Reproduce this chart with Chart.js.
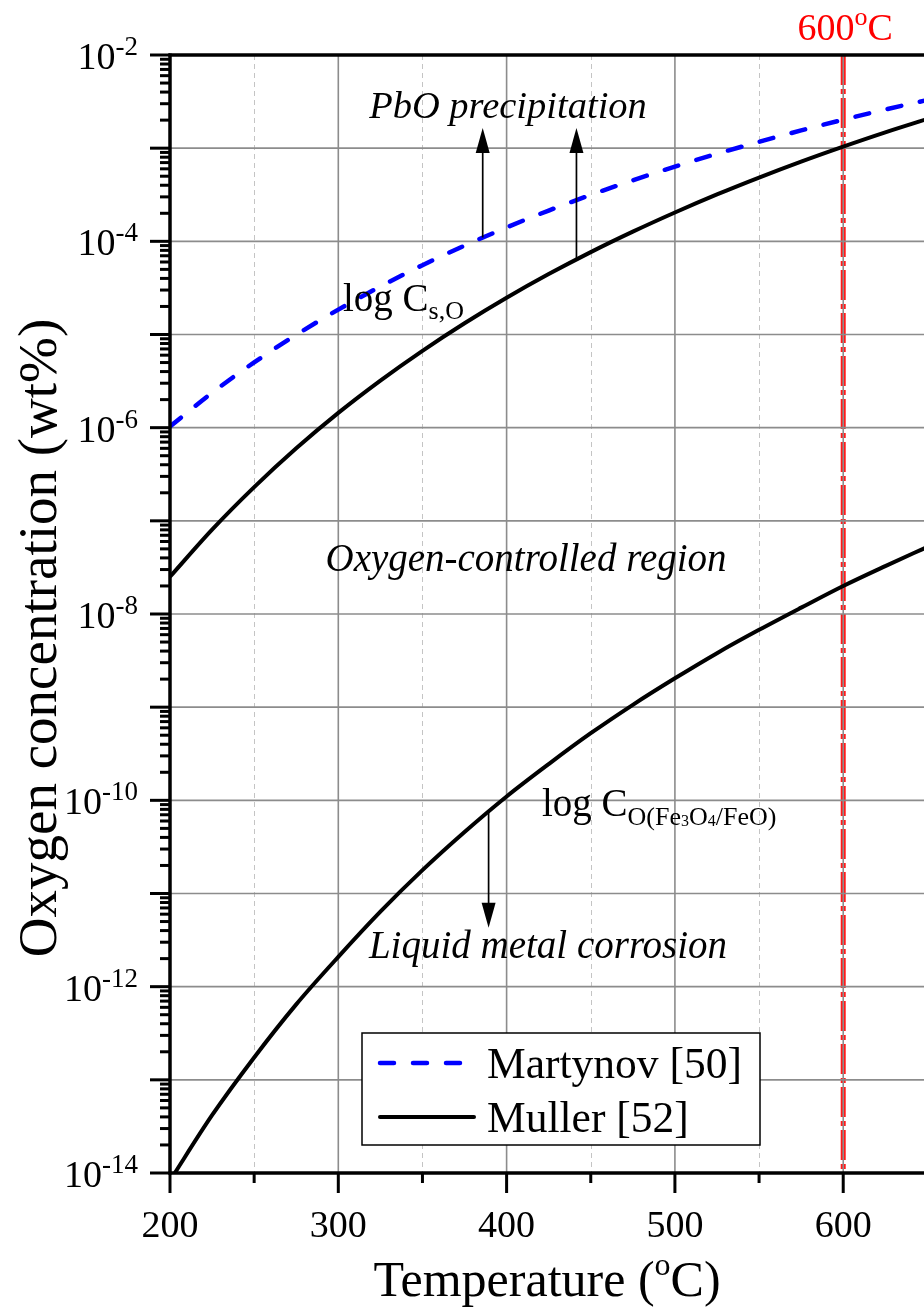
<!DOCTYPE html>
<html>
<head>
<meta charset="utf-8">
<title>Oxygen concentration in lead vs temperature</title>
<script src="https://cdn.jsdelivr.net/npm/chart.js"></script>
<style>
  html, body { margin: 0; padding: 0; background: #fff; }
</style>
</head>
<body>
<canvas id="chart" width="924" height="1309"></canvas>
<script>
// temperatures in degC
const temps = [200, 225, 250, 275, 300, 325, 350, 375, 400, 425, 450, 475, 500, 525, 550, 575, 600, 625, 650];
// oxygen solubility, Martynov [50] (wt%)
const martynov = [1.03e-6, 2.37e-6, 5.02e-6, 9.93e-6, 1.85e-5, 3.28e-5, 5.55e-5, 8.99e-5, 1.41e-4, 2.14e-4, 3.15e-4, 4.52e-4, 6.34e-4, 8.71e-4, 1.17e-3, 1.55e-3, 2.02e-3, 2.60e-3, 3.29e-3];
// oxygen solubility, Muller [52] (wt%)
const mullerSat = [2.51e-8, 8.04e-8, 2.30e-7, 6.00e-7, 1.44e-6, 3.20e-6, 6.68e-6, 1.32e-5, 2.48e-5, 4.45e-5, 7.66e-5, 1.27e-4, 2.04e-4, 3.19e-4, 4.84e-4, 7.18e-4, 1.04e-3, 1.48e-3, 2.06e-3];
// Fe3O4/FeO equilibrium oxygen level, Muller [52] (wt%)
const mullerFe = [8.3e-15, 4.17e-14, 1.74e-13, 6.46e-13, 2.09e-12, 6.38e-12, 1.78e-11, 4.57e-11, 1.10e-10, 2.45e-10, 5.25e-10, 1.06e-9, 2.04e-9, 3.80e-9, 6.76e-9, 1.17e-8, 2.0e-8, 3.27e-8, 5.25e-8];

// axis ticks
const xMajorTicks = [200, 300, 400, 500, 600];
const xMinorTicks = [250, 350, 450, 550];
const yDecadeExps = [-2, -3, -4, -5, -6, -7, -8, -9, -10, -11, -12, -13, -14];
const yLabelExps = [-2, -4, -6, -8, -10, -12, -14];
const yMinorMults = [2, 3, 4, 5, 6, 7, 8, 9];

const markTemp = 600;

// arrows: [temperature, from, to] in data units
const arrows = [
  [385.8, 1.1e-4, 1.65e-3],
  [441.5, 6.4e-5, 1.65e-3],
  [389.3, 7.9e-11, 4.3e-12]
];

const SERIF = '"Liberation Serif", "Times New Roman", serif';
const f = (size, style) => (style ? style + ' ' : '') + size + 'px ' + SERIF;

function richText(ctx, runs, x, y, align, color) {
  ctx.save();
  ctx.fillStyle = color || '#000';
  ctx.textBaseline = 'alphabetic';
  ctx.textAlign = 'left';
  let w = 0;
  runs.forEach(r => { ctx.font = r.font; r.w = ctx.measureText(r.text).width; w += r.w; });
  let cx = align === 'center' ? x - w / 2 : align === 'right' ? x - w : x;
  runs.forEach(r => { ctx.font = r.font; ctx.fillText(r.text, cx, y + (r.dy || 0)); cx += r.w; });
  ctx.restore();
  return w;
}

function line(ctx, x1, y1, x2, y2) {
  ctx.beginPath(); ctx.moveTo(x1, y1); ctx.lineTo(x2, y2); ctx.stroke();
}

const decades = yDecadeExps.map(e => Math.pow(10, e));

const framePlugin = {
  id: 'frame',
  beforeDraw(chart) {
    // red marker line at 600 degC, under the grid
    const { ctx, chartArea: a, scales: { x } } = chart;
    const px = x.getPixelForValue(markTemp);
    ctx.save();
    ctx.strokeStyle = '#ff1a1a';
    ctx.lineWidth = 5;
    ctx.setLineDash([30, 4, 5, 4]);
    line(ctx, px, a.top, px, a.bottom);
    ctx.restore();
  },
  beforeDatasetsDraw(chart) {
    const { ctx, chartArea: a, scales: { x, y } } = chart;
    ctx.save();
    // minor vertical grid (dashed)
    ctx.strokeStyle = '#c4c4c4';
    ctx.lineWidth = 1;
    ctx.setLineDash([5, 4]);
    xMinorTicks.forEach(t => {
      const px = Math.round(x.getPixelForValue(t)) + 0.5;
      line(ctx, px, a.top, px, a.bottom);
    });
    ctx.setLineDash([]);
    // major grid
    ctx.strokeStyle = '#8c8c8c';
    ctx.lineWidth = 1.6;
    xMajorTicks.forEach(t => {
      const px = x.getPixelForValue(t);
      line(ctx, px, a.top, px, a.bottom);
    });
    decades.forEach(v => {
      const py = y.getPixelForValue(v);
      line(ctx, a.left, py, a.right, py);
    });
    ctx.restore();
  },
  afterDatasetsDraw(chart) {
    const { ctx, chartArea: a, scales: { x, y } } = chart;
    ctx.save();
    ctx.strokeStyle = '#000';
    ctx.lineCap = 'butt';
    // y ticks
    ctx.lineWidth = 3;
    decades.forEach(v => {
      const py = y.getPixelForValue(v);
      line(ctx, a.left - 20, py, a.left, py);
    });
    yDecadeExps.slice(1).forEach(e => {
      yMinorMults.forEach(m => {
        const py = y.getPixelForValue(m * Math.pow(10, e));
        line(ctx, a.left - 10, py, a.left, py);
      });
    });
    // x ticks
    xMajorTicks.forEach(t => {
      const px = x.getPixelForValue(t);
      line(ctx, px, a.bottom, px, a.bottom + 20);
    });
    xMinorTicks.forEach(t => {
      const px = x.getPixelForValue(t);
      line(ctx, px, a.bottom, px, a.bottom + 10);
    });
    // frame
    ctx.lineWidth = 3.5;
    line(ctx, a.left, a.top - 1.5, a.left, a.bottom + 1.5);
    line(ctx, a.left - 1.5, a.bottom, a.right, a.bottom);
    line(ctx, a.left - 1.5, a.top, a.right, a.top);
    ctx.restore();

    // tick labels
    yLabelExps.forEach(e => {
      const py = y.getPixelForValue(Math.pow(10, e));
      richText(ctx, [
        { text: '10', font: f(38) },
        { text: '-' + (-e), font: f(27), dy: -14 }
      ], 138, py + 14, 'right');
    });
    xMajorTicks.forEach(t => {
      richText(ctx, [{ text: String(t), font: f(38) }], x.getPixelForValue(t), a.bottom + 64, 'center');
    });

    // axis titles
    richText(ctx, [
      { text: 'Temperature (', font: f(50) },
      { text: 'o', font: f(32), dy: -21 },
      { text: 'C)', font: f(50) }
    ], (a.left + a.right) / 2, 1296, 'center');
    ctx.save();
    ctx.translate(56, (a.top + a.bottom) / 2 + 24);
    ctx.rotate(-Math.PI / 2);
    richText(ctx, [{ text: 'Oxygen concentration (wt%)', font: f(55) }], 0, 0, 'center');
    ctx.restore();

    // red marker caption
    richText(ctx, [
      { text: '600', font: f(38) },
      { text: 'o', font: f(26), dy: -15 },
      { text: 'C', font: f(38) }
    ], x.getPixelForValue(markTemp) + 2, 40, 'center', '#ff0000');

    // arrows
    ctx.save();
    ctx.strokeStyle = '#000';
    ctx.fillStyle = '#000';
    ctx.lineWidth = 1.7;
    arrows.forEach(([t, v0, v1]) => {
      const px = x.getPixelForValue(t);
      const p0 = y.getPixelForValue(v0);
      const p1 = y.getPixelForValue(v1);
      const dir = p1 < p0 ? -1 : 1;
      line(ctx, px, p0, px, p1 - dir * 20);
      ctx.beginPath();
      ctx.moveTo(px, p1);
      ctx.lineTo(px - 7, p1 - dir * 25);
      ctx.lineTo(px + 7, p1 - dir * 25);
      ctx.closePath();
      ctx.fill();
    });
    ctx.restore();

    // region labels
    richText(ctx, [{ text: 'PbO precipitation', font: f(38.5, 'italic') }], 508, 118, 'center');
    richText(ctx, [{ text: 'Oxygen-controlled region', font: f(39, 'italic') }], 526, 571, 'center');
    richText(ctx, [{ text: 'Liquid metal corrosion', font: f(39, 'italic') }], 548, 958, 'center');
    richText(ctx, [
      { text: 'log C', font: f(39) },
      { text: 's,O', font: f(26), dy: 8 }
    ], 343, 311, 'left');
    richText(ctx, [
      { text: 'log C', font: f(39) },
      { text: 'O(Fe', font: f(26), dy: 9 },
      { text: '3', font: f(16), dy: 10 },
      { text: 'O', font: f(26), dy: 9 },
      { text: '4', font: f(16), dy: 10 },
      { text: '/FeO)', font: f(26), dy: 9 }
    ], 542, 816, 'left');

    // legend
    ctx.save();
    ctx.fillStyle = '#fff';
    ctx.fillRect(362, 1033, 398, 112);
    ctx.strokeStyle = '#000';
    ctx.lineWidth = 1.5;
    ctx.strokeRect(362, 1033, 398, 112);
    chart.data.datasets.filter(d => d.label).forEach((d, i) => {
      const ly = 1063 + i * 54;
      ctx.strokeStyle = d.borderColor;
      ctx.lineWidth = d.borderWidth;
      ctx.lineCap = 'round';
      ctx.setLineDash(d.borderDash || []);
      line(ctx, 380, ly, 474, ly);
      ctx.setLineDash([]);
      richText(ctx, [{ text: d.label, font: f(43.5) }], 487, ly + 15, 'left');
    });
    ctx.restore();
  }
};

const pts = arr => temps.map((t, i) => ({ x: t, y: arr[i] }));

new Chart(document.getElementById('chart'), {
  type: 'line',
  data: {
    datasets: [
      { label: 'Martynov [50]', data: pts(martynov), borderColor: '#0000ff', borderWidth: 4.5, borderDash: [14, 19], borderCapStyle: 'round', order: 0 },
      { label: 'Muller [52]', data: pts(mullerSat), borderColor: '#000000', borderWidth: 4, order: 1 },
      { label: '', data: pts(mullerFe), borderColor: '#000000', borderWidth: 4, order: 2 }
    ]
  },
  options: {
    responsive: false,
    animation: false,
    events: [],
    layout: { padding: { top: 55, right: 0, left: 0, bottom: 0 } },
    elements: {
      point: { radius: 0 },
      line: { cubicInterpolationMode: 'monotone', fill: false }
    },
    datasets: { line: { clip: 0 } },
    plugins: { legend: { display: false }, tooltip: { enabled: false } },
    scales: {
      x: {
        type: 'linear',
        min: 200,
        max: 648,
        grid: { display: false },
        border: { display: false },
        ticks: { display: false },
        afterBuildTicks: s => { s.ticks = xMajorTicks.map(v => ({ value: v })); },
        afterFit: s => { s.height = 136; }
      },
      y: {
        type: 'logarithmic',
        min: 1e-14,
        max: 1e-2,
        grid: { display: false },
        border: { display: false },
        ticks: { display: false },
        afterBuildTicks: s => { s.ticks = decades.map(v => ({ value: v })); },
        afterFit: s => { s.width = 170; }
      }
    }
  },
  plugins: [framePlugin]
});
</script>
</body>
</html>
